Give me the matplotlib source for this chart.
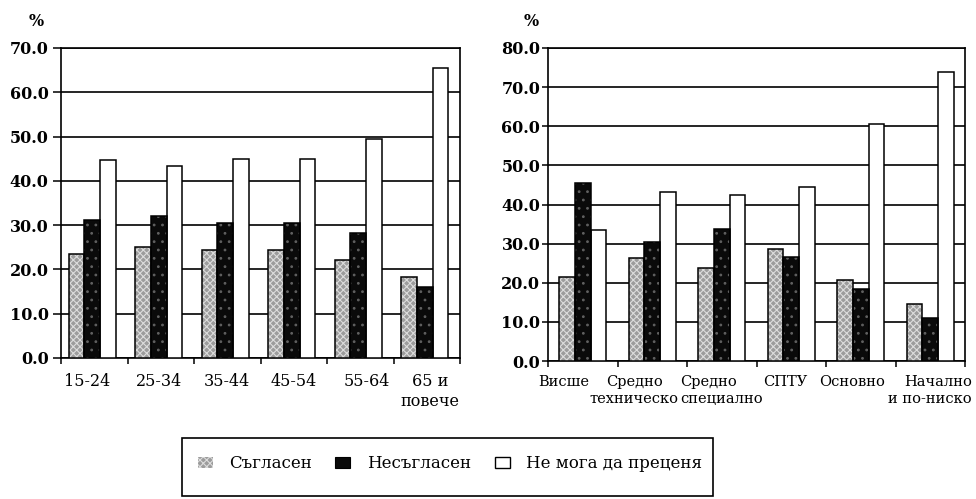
import matplotlib
matplotlib.use("Agg")
import matplotlib.pyplot as plt
import numpy as np
from matplotlib.patches import Patch, Rectangle

plt.rcParams['font.family'] = ['DejaVu Serif']
plt.rcParams['hatch.linewidth'] = 0.8

age_groups = ["15-24", "25-34", "35-44", "45-54", "55-64", "65 и\nповече"]
age_agree = [23.5, 25.0, 24.4, 24.4, 22.1, 18.3]
age_disagree = [31.1, 32.0, 30.5, 30.5, 28.3, 16.0]
age_cannot = [44.8, 43.4, 44.9, 44.9, 49.5, 65.4]

edu_groups = ["Висше", "Средно\nтехническо", "Средно\nспециално", "СПТУ", "Основно", "Начално\nи по-ниско"]
edu_agree = [21.4, 26.4, 23.7, 28.5, 20.7, 14.6]
edu_disagree = [45.6, 30.5, 33.8, 26.7, 18.3, 10.9]
edu_cannot = [33.4, 43.2, 42.5, 44.4, 60.7, 73.9]

series_names = ["Съгласен", "Несъгласен", "Не мога да преценя"]

W, H = 976, 499
fig = plt.figure(figsize=(W / 100, H / 100), dpi=100)

def ax_rect(x0, x1, ytop, ybot):
    return [x0 / W, 1 - ybot / H, (x1 - x0) / W, (ybot - ytop) / H]

FS = 11.5
GREY = '#9c9c9c'

def draw_bars(ax, x, vals, kind, w):
    if kind == 'grey':
        ax.bar(x, vals, w, color=GREY, hatch='xxxxx', edgecolor='#dcdcdc', linewidth=0, zorder=3)
    elif kind == 'black':
        ax.bar(x, vals, w, color='#0a0a0a', hatch='..', edgecolor='#606060', linewidth=0, zorder=3)
    else:
        ax.bar(x, vals, w, color='white', linewidth=0, zorder=3)
    ax.bar(x, vals, w, fill=False, edgecolor='black', linewidth=1.1, zorder=4)

def make_chart(rect, cats, s1, s2, s3, ymax, bw, shift, label_offsets, ytick_len, ytick_pad, xpad, xfs, aligns):
    ax = fig.add_axes(rect)
    x = np.arange(len(cats))
    draw_bars(ax, x + shift - bw, s1, 'grey', bw)
    draw_bars(ax, x + shift, s2, 'black', bw)
    draw_bars(ax, x + shift + bw, s3, 'white', bw)
    ax.set_xlim(-0.5, len(cats) - 0.5)
    ax.set_ylim(0, ymax)
    yt = np.arange(0, ymax + 1, 10)
    ax.set_yticks(yt)
    ax.set_yticklabels([f"{v:.1f}" for v in yt], fontsize=FS, fontweight='bold')
    ax.set_xticks(x + np.array(label_offsets))
    labels = ax.set_xticklabels(cats, fontsize=xfs, linespacing=1.25)
    for lab, al in zip(labels, aligns):
        lab.set_multialignment(al)
    ax.set_xticks(np.arange(-0.5, len(cats)), minor=True)
    ax.tick_params(axis='x', which='major', length=0, pad=xpad)
    ax.tick_params(axis='x', which='minor', length=4.5, width=1.1, direction='out')
    ax.tick_params(axis='y', length=ytick_len, width=1.1, direction='out', pad=ytick_pad)
    ax.yaxis.grid(True, color='black', linewidth=1.2, zorder=1)
    ax.set_axisbelow(True)
    for sp in ax.spines.values():
        sp.set_linewidth(1.2)
    return ax

ax1 = make_chart(ax_rect(61, 460, 48, 358), age_groups, age_agree, age_disagree, age_cannot,
                 70, 0.235, -0.03, [-0.1, -0.02, 0, 0, 0.1, 0.05], 6, 3, 10.5, 11.5,
                 ['center'] * 6)
ax2 = make_chart(ax_rect(548, 965, 48, 361), edu_groups, edu_agree, edu_disagree, edu_cannot,
                 80, 0.226, 0.0, [-0.28, -0.26, 0.0, -0.08, -0.12, 0.0], 4, 1.5, 10, 10.5,
                 ['center', 'center', 'left', 'center', 'center', 'right'])

fig.text(36 / W, 1 - 21 / H, "%", ha='center', va='center', fontsize=FS, fontweight='bold')
fig.text(531 / W, 1 - 21 / H, "%", ha='center', va='center', fontsize=FS, fontweight='bold')

# legend box
fig.patches.append(Rectangle((182 / W, 1 - 496 / H), (713 - 182) / W, (496 - 438) / H,
                             transform=fig.transFigure, fill=False, edgecolor='black', linewidth=1.2))
handles = [
    Patch(facecolor=GREY, hatch='xxxxx', edgecolor='#dcdcdc', linewidth=0),
    Patch(facecolor='#0a0a0a', edgecolor='black', linewidth=0.8),
    Patch(facecolor='white', edgecolor='black', linewidth=1.0),
]
fig.legend(handles, series_names, loc='center', bbox_to_anchor=(450 / W, 1 - 464 / H),
           ncol=3, frameon=False, fontsize=12, handlelength=0.9, handleheight=0.6,
           handletextpad=1.0, columnspacing=1.4)

fig.savefig("out.png", dpi=100)
